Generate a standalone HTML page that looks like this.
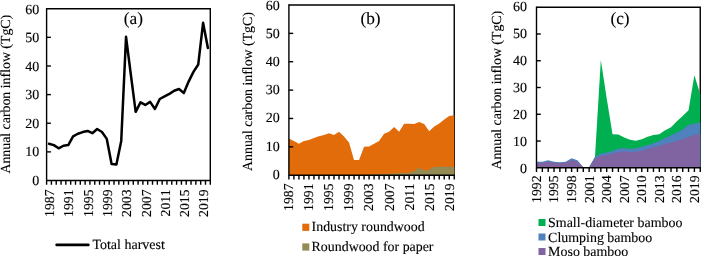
<!DOCTYPE html>
<html lang="en">
<head>
<meta charset="utf-8">
<title>Annual carbon inflow</title>
<style>
html,body{margin:0;padding:0;background:#fff;}
body{width:701px;height:256px;overflow:hidden;}
svg{display:block;}
svg text{font-family:"Liberation Serif", serif;font-size:14.0px;fill:#000;stroke:#000;stroke-width:0.12px;text-rendering:geometricPrecision;}
</style>
</head>
<body>
<svg width="701" height="256" viewBox="0 0 701 256">
<rect x="0" y="0" width="701" height="256" fill="#fff"/>
<g id="panel-a">
<path d="M46.6 8.7H210.3V180.5" fill="none" stroke="#000" stroke-width="1.4" stroke-linejoin="miter"/>
<path d="M46.6 8V180.5H211" fill="none" stroke="#000" stroke-width="1.4"/>
<text x="39.3" y="184.54" text-anchor="end">0</text>
<line x1="46.6" y1="151.87" x2="50.9" y2="151.87" stroke="#000" stroke-width="1.4"/>
<text x="39.3" y="156.07" text-anchor="end">10</text>
<line x1="46.6" y1="123.23" x2="50.9" y2="123.23" stroke="#000" stroke-width="1.4"/>
<text x="39.3" y="127.59" text-anchor="end">20</text>
<line x1="46.6" y1="94.6" x2="50.9" y2="94.6" stroke="#000" stroke-width="1.4"/>
<text x="39.3" y="99.12" text-anchor="end">30</text>
<line x1="46.6" y1="65.97" x2="50.9" y2="65.97" stroke="#000" stroke-width="1.4"/>
<text x="39.3" y="70.65" text-anchor="end">40</text>
<line x1="46.6" y1="37.33" x2="50.9" y2="37.33" stroke="#000" stroke-width="1.4"/>
<text x="39.3" y="42.17" text-anchor="end">50</text>
<text x="39.3" y="13.7" text-anchor="end">60</text>
<path d="M46.6 180.5v4.2M51.41 180.5v4.2M56.23 180.5v4.2M61.04 180.5v4.2M65.86 180.5v4.2M70.67 180.5v4.2M75.49 180.5v4.2M80.3 180.5v4.2M85.12 180.5v4.2M89.93 180.5v4.2M94.75 180.5v4.2M99.56 180.5v4.2M104.38 180.5v4.2M109.19 180.5v4.2M114.01 180.5v4.2M118.82 180.5v4.2M123.64 180.5v4.2M128.45 180.5v4.2M133.26 180.5v4.2M138.08 180.5v4.2M142.89 180.5v4.2M147.71 180.5v4.2M152.52 180.5v4.2M157.34 180.5v4.2M162.15 180.5v4.2M166.97 180.5v4.2M171.78 180.5v4.2M176.6 180.5v4.2M181.41 180.5v4.2M186.23 180.5v4.2M191.04 180.5v4.2M195.86 180.5v4.2M200.67 180.5v4.2M205.49 180.5v4.2M210.3 180.5v4.2" stroke="#000" stroke-width="1.4" fill="none"/>
<text transform="translate(54.21 189.5) rotate(-90)" text-anchor="end" style="font-size:13.7px">1987</text>
<text transform="translate(73.47 189.5) rotate(-90)" text-anchor="end" style="font-size:13.7px">1991</text>
<text transform="translate(92.73 189.5) rotate(-90)" text-anchor="end" style="font-size:13.7px">1995</text>
<text transform="translate(111.98 189.5) rotate(-90)" text-anchor="end" style="font-size:13.7px">1999</text>
<text transform="translate(131.24 189.5) rotate(-90)" text-anchor="end" style="font-size:13.7px">2003</text>
<text transform="translate(150.5 189.5) rotate(-90)" text-anchor="end" style="font-size:13.7px">2007</text>
<text transform="translate(169.76 189.5) rotate(-90)" text-anchor="end" style="font-size:13.7px">2011</text>
<text transform="translate(189.02 189.5) rotate(-90)" text-anchor="end" style="font-size:13.7px">2015</text>
<text transform="translate(208.28 189.5) rotate(-90)" text-anchor="end" style="font-size:13.7px">2019</text>
<text transform="translate(10.3 94.2) rotate(-90)" text-anchor="middle" style="font-size:13.85px">Annual carbon inflow (TgC)</text>
<polyline points="49.01,143.75 53.82,145.17 58.64,148.31 63.45,145.74 68.27,145.03 73.08,136.33 77.9,133.77 82.71,132.06 87.53,130.92 92.34,133.2 97.15,129.06 101.97,132.06 106.78,138.9 111.6,164 116.41,164.57 121.23,140.9 126.04,36.81 130.86,74.74 135.67,111.81 140.49,102.4 145.3,104.97 150.12,101.83 154.93,108.96 159.75,98.98 164.56,96.41 169.38,93.84 174.19,90.71 179,89 183.82,92.99 188.63,81.58 193.45,71.89 198.26,64.47 203.08,22.84 207.89,47.93" fill="none" stroke="#000" stroke-width="2.5" stroke-linejoin="round" stroke-linecap="round"/>
<text x="133.4" y="24.3" text-anchor="middle" style="font-size:17.3px">(a)</text>
<line x1="56.6" y1="244.9" x2="88.4" y2="244.9" stroke="#000" stroke-width="2.6" stroke-linecap="round"/>
<text x="92.4" y="249.1">Total harvest</text>
</g>
<g id="panel-b">
<path d="M288.9 5H454.25V175.2" fill="none" stroke="#000" stroke-width="1.4" stroke-linejoin="miter"/>
<polygon points="288.9,175.2 288.9,138.52 293.91,141.07 298.92,143.63 303.93,141.07 308.94,140.08 313.95,138.1 318.96,136.25 323.97,135.12 328.98,133.13 334,135.12 339.01,131.71 344.02,136.54 349.03,142.49 354.04,160.08 359.05,160.08 364.06,146.75 369.07,146.46 374.08,143.63 379.09,141.07 384.1,133.7 389.11,131.71 394.12,126.89 399.13,131.71 404.14,123.77 409.15,123.77 414.17,124.05 419.18,122.07 424.19,124.05 429.2,131.15 434.21,126.61 439.22,123.49 444.23,119.52 449.24,116.11 454.25,115.26 454.25,175.2" fill="#E36C0A"/>
<polygon points="288.9,175.2 288.9,175.2 293.91,175.2 298.92,175.2 303.93,175.2 308.94,175.2 313.95,175.2 318.96,175.2 323.97,175.2 328.98,175.2 334,175.2 339.01,175.2 344.02,175.2 349.03,175.06 354.04,174.97 359.05,174.92 364.06,174.77 369.07,174.63 374.08,174.49 379.09,174.35 384.1,174.07 389.11,173.78 394.12,173.5 399.13,173.21 404.14,172.93 409.15,172.65 414.17,171.37 419.18,167.4 424.19,170.66 429.2,169.38 434.21,166.69 439.22,166.69 444.23,166.69 449.24,166.69 454.25,166.69 454.25,175.2" fill="#948A54"/>
<path d="M288.9 4.3V175.2H454.95" fill="none" stroke="#000" stroke-width="1.4"/>
<text x="279.8" y="178.82" text-anchor="end">0</text>
<line x1="288.9" y1="146.83" x2="293.2" y2="146.83" stroke="#000" stroke-width="1.4"/>
<text x="279.8" y="150.63" text-anchor="end">10</text>
<line x1="288.9" y1="118.47" x2="293.2" y2="118.47" stroke="#000" stroke-width="1.4"/>
<text x="279.8" y="122.45" text-anchor="end">20</text>
<line x1="288.9" y1="90.1" x2="293.2" y2="90.1" stroke="#000" stroke-width="1.4"/>
<text x="279.8" y="94.26" text-anchor="end">30</text>
<line x1="288.9" y1="61.73" x2="293.2" y2="61.73" stroke="#000" stroke-width="1.4"/>
<text x="279.8" y="66.07" text-anchor="end">40</text>
<line x1="288.9" y1="33.37" x2="293.2" y2="33.37" stroke="#000" stroke-width="1.4"/>
<text x="279.8" y="37.89" text-anchor="end">50</text>
<text x="279.8" y="9.7" text-anchor="end">60</text>
<path d="M288.9 175.2v4.2M293.91 175.2v4.2M298.92 175.2v4.2M303.93 175.2v4.2M308.94 175.2v4.2M313.95 175.2v4.2M318.96 175.2v4.2M323.97 175.2v4.2M328.98 175.2v4.2M334 175.2v4.2M339.01 175.2v4.2M344.02 175.2v4.2M349.03 175.2v4.2M354.04 175.2v4.2M359.05 175.2v4.2M364.06 175.2v4.2M369.07 175.2v4.2M374.08 175.2v4.2M379.09 175.2v4.2M384.1 175.2v4.2M389.11 175.2v4.2M394.12 175.2v4.2M399.13 175.2v4.2M404.14 175.2v4.2M409.15 175.2v4.2M414.17 175.2v4.2M419.18 175.2v4.2M424.19 175.2v4.2M429.2 175.2v4.2M434.21 175.2v4.2M439.22 175.2v4.2M444.23 175.2v4.2M449.24 175.2v4.2M454.25 175.2v4.2" stroke="#000" stroke-width="1.4" fill="none"/>
<text transform="translate(293.3 183.5) rotate(-90)" text-anchor="end" style="font-size:13.7px">1987</text>
<text transform="translate(313.34 183.5) rotate(-90)" text-anchor="end" style="font-size:13.7px">1991</text>
<text transform="translate(333.38 183.5) rotate(-90)" text-anchor="end" style="font-size:13.7px">1995</text>
<text transform="translate(353.43 183.5) rotate(-90)" text-anchor="end" style="font-size:13.7px">1999</text>
<text transform="translate(373.47 183.5) rotate(-90)" text-anchor="end" style="font-size:13.7px">2003</text>
<text transform="translate(393.51 183.5) rotate(-90)" text-anchor="end" style="font-size:13.7px">2007</text>
<text transform="translate(413.55 183.5) rotate(-90)" text-anchor="end" style="font-size:13.7px">2011</text>
<text transform="translate(433.6 183.5) rotate(-90)" text-anchor="end" style="font-size:13.7px">2015</text>
<text transform="translate(453.64 183.5) rotate(-90)" text-anchor="end" style="font-size:13.7px">2019</text>
<text transform="translate(252.2 91.5) rotate(-90)" text-anchor="middle" style="font-size:13.85px">Annual carbon inflow (TgC)</text>
<text x="370.5" y="24" text-anchor="middle" style="font-size:17.3px">(b)</text>
<rect x="302.3" y="223.7" width="7" height="7.2" fill="#E36C0A"/>
<text x="311.6" y="230.8" style="font-size:13.9px">Industry roundwood</text>
<rect x="302.3" y="243.4" width="7" height="7.2" fill="#948A54"/>
<text x="311.6" y="251.2" style="font-size:13.9px">Roundwood for paper</text>
</g>
<g id="panel-c">
<path d="M536.5 7.2H700.25V167.8" fill="none" stroke="#000" stroke-width="1.4" stroke-linejoin="miter"/>
<polygon points="536.5,167.8 536.5,167.5 542.35,167.5 548.2,167.5 554.04,167.5 559.89,167.5 565.74,167.5 571.59,167.5 577.44,167.5 583.29,167.5 589.13,167.5 594.98,156.97 600.83,60.03 606.68,98.17 612.53,134.17 618.38,134.57 624.22,137.5 630.07,139.63 635.92,140.7 641.77,139.37 647.62,136.83 653.46,135.1 659.31,134.17 665.16,130.17 671.01,127.23 676.86,121.37 682.71,116.03 688.55,110.17 694.4,75.23 700.25,94.17 700.25,167.8" fill="#00B050"/>
<polygon points="536.5,167.8 536.5,161.63 542.35,161.77 548.2,160.17 554.04,161.63 559.89,162.3 565.74,161.63 571.59,158.17 577.44,160.3 583.29,167.23 589.13,167.23 594.98,156.97 600.83,153.58 606.68,152.49 612.53,151.05 618.38,148.38 624.22,148.06 630.07,149.02 635.92,148.17 641.77,146.7 647.62,145.1 653.46,143.23 659.31,140.97 665.16,138.03 671.01,135.37 676.86,132.7 682.71,129.23 688.55,124.83 694.4,123.77 700.25,122.43 700.25,167.8" fill="#4F81BD"/>
<polygon points="536.5,167.8 536.5,162.7 542.35,162.75 548.2,161.63 554.04,162.65 559.89,163.18 565.74,162.57 571.59,160.03 577.44,161.63 583.29,167.37 589.13,167.37 594.98,158.17 600.83,155.74 606.68,154.94 612.53,153.82 618.38,152.11 624.22,151.37 630.07,152.09 635.92,151.77 641.77,150.7 647.62,148.97 653.46,147.37 659.31,145.9 665.16,144.03 671.01,142.57 676.86,141.1 682.71,138.97 688.55,137.1 694.4,135.1 700.25,133.63 700.25,167.8" fill="#8064A2"/>
<path d="M536.5 6.5V167.8H700.95" fill="none" stroke="#000" stroke-width="1.4"/>
<text x="527.1" y="172.7" text-anchor="end">0</text>
<line x1="536.5" y1="141.03" x2="540.8" y2="141.03" stroke="#000" stroke-width="1.4"/>
<text x="527.1" y="145.78" text-anchor="end">10</text>
<line x1="536.5" y1="114.27" x2="540.8" y2="114.27" stroke="#000" stroke-width="1.4"/>
<text x="527.1" y="118.87" text-anchor="end">20</text>
<line x1="536.5" y1="87.5" x2="540.8" y2="87.5" stroke="#000" stroke-width="1.4"/>
<text x="527.1" y="91.95" text-anchor="end">30</text>
<line x1="536.5" y1="60.73" x2="540.8" y2="60.73" stroke="#000" stroke-width="1.4"/>
<text x="527.1" y="65.03" text-anchor="end">40</text>
<line x1="536.5" y1="33.97" x2="540.8" y2="33.97" stroke="#000" stroke-width="1.4"/>
<text x="527.1" y="38.12" text-anchor="end">50</text>
<text x="527.1" y="11.2" text-anchor="end">60</text>
<path d="M536.5 167.8v4.2M542.35 167.8v4.2M548.2 167.8v4.2M554.04 167.8v4.2M559.89 167.8v4.2M565.74 167.8v4.2M571.59 167.8v4.2M577.44 167.8v4.2M583.29 167.8v4.2M589.13 167.8v4.2M594.98 167.8v4.2M600.83 167.8v4.2M606.68 167.8v4.2M612.53 167.8v4.2M618.38 167.8v4.2M624.22 167.8v4.2M630.07 167.8v4.2M635.92 167.8v4.2M641.77 167.8v4.2M647.62 167.8v4.2M653.46 167.8v4.2M659.31 167.8v4.2M665.16 167.8v4.2M671.01 167.8v4.2M676.86 167.8v4.2M682.71 167.8v4.2M688.55 167.8v4.2M694.4 167.8v4.2M700.25 167.8v4.2" stroke="#000" stroke-width="1.4" fill="none"/>
<text transform="translate(540.9 175.5) rotate(-90)" text-anchor="end" style="font-size:13.7px">1992</text>
<text transform="translate(558.44 175.5) rotate(-90)" text-anchor="end" style="font-size:13.7px">1995</text>
<text transform="translate(575.99 175.5) rotate(-90)" text-anchor="end" style="font-size:13.7px">1998</text>
<text transform="translate(593.53 175.5) rotate(-90)" text-anchor="end" style="font-size:13.7px">2001</text>
<text transform="translate(611.08 175.5) rotate(-90)" text-anchor="end" style="font-size:13.7px">2004</text>
<text transform="translate(628.62 175.5) rotate(-90)" text-anchor="end" style="font-size:13.7px">2007</text>
<text transform="translate(646.17 175.5) rotate(-90)" text-anchor="end" style="font-size:13.7px">2010</text>
<text transform="translate(663.71 175.5) rotate(-90)" text-anchor="end" style="font-size:13.7px">2013</text>
<text transform="translate(681.26 175.5) rotate(-90)" text-anchor="end" style="font-size:13.7px">2016</text>
<text transform="translate(698.8 175.5) rotate(-90)" text-anchor="end" style="font-size:13.7px">2019</text>
<text transform="translate(500.9 90.2) rotate(-90)" text-anchor="middle" style="font-size:13.85px">Annual carbon inflow (TgC)</text>
<text x="620" y="24.2" text-anchor="middle" style="font-size:17.3px">(c)</text>
<rect x="538.5" y="219" width="7" height="7" fill="#00B050"/>
<text x="548.1" y="227" style="font-size:13.95px">Small-diameter bamboo</text>
<rect x="538.5" y="233.5" width="7" height="7" fill="#4F81BD"/>
<text x="548.1" y="241.8" style="font-size:13.95px">Clumping bamboo</text>
<rect x="538.5" y="248" width="7" height="7" fill="#8064A2"/>
<text x="548.1" y="255.9" style="font-size:13.95px">Moso bamboo</text>
</g>
</svg>
</body>
</html>
